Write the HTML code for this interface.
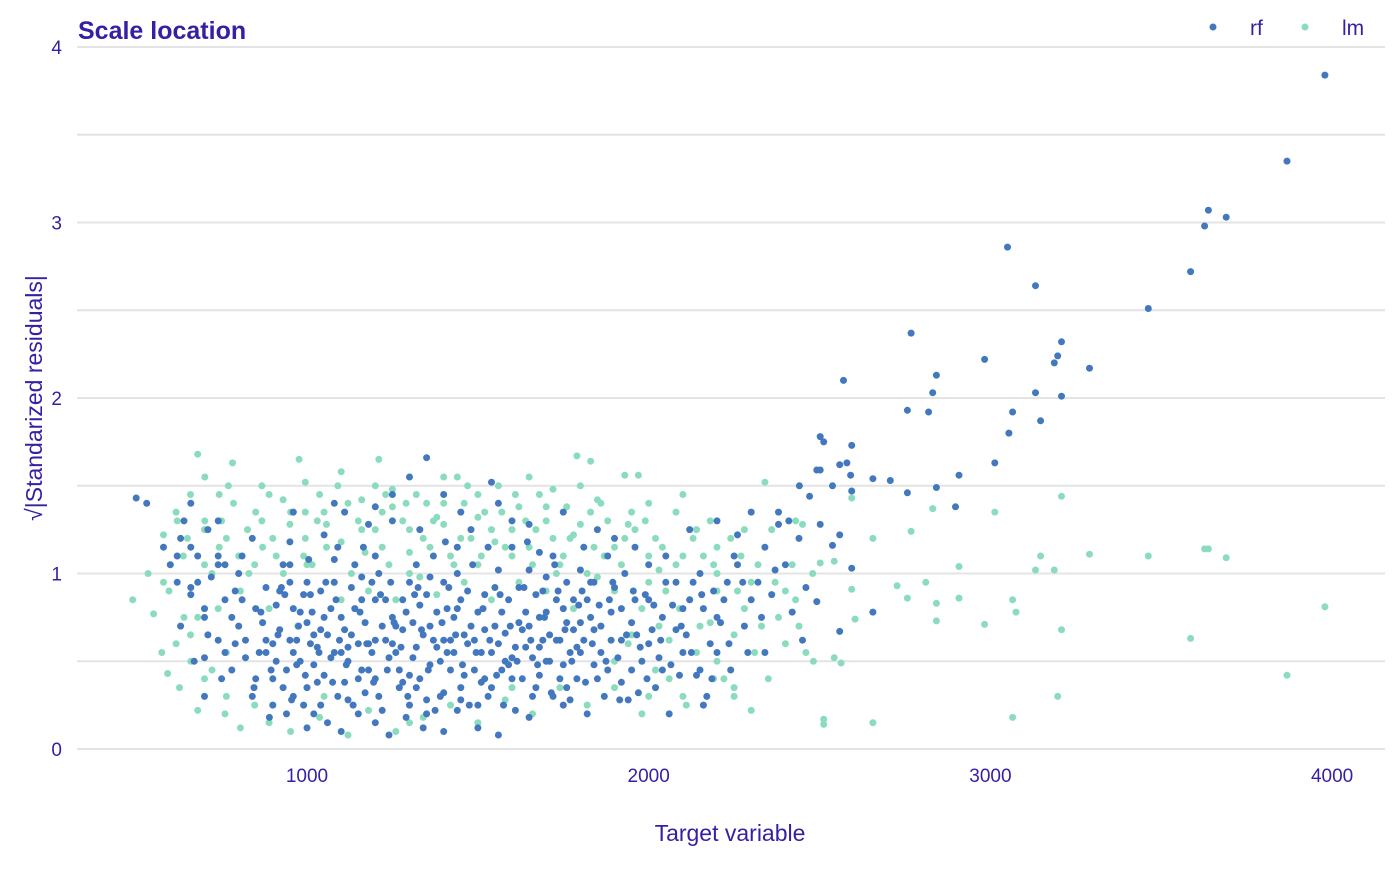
<!DOCTYPE html>
<html><head><meta charset="utf-8"><style>
body{margin:0;background:#fff;font-family:"Liberation Sans",sans-serif}
svg text{font-family:"Liberation Sans",sans-serif;fill:#371ea3}
</style></head><body>
<svg id="chart" width="1400" height="865" xmlns="http://www.w3.org/2000/svg">
<g id="grid"></g>
<g id="lm"></g>
<g id="rf"></g>
<g id="axes"></g>
<text x="78" y="39" font-size="25" font-weight="bold">Scale location</text>
<circle cx="1213" cy="27" r="3.5" fill="#4378bf"/>
<text x="1250" y="35" font-size="21">rf</text>
<circle cx="1305" cy="27" r="3.5" fill="#8bdcbe"/>
<text x="1342" y="35" font-size="21">lm</text>
<text x="730" y="841" font-size="23" text-anchor="middle">Target variable</text>
<text transform="translate(42,398) rotate(-90)" font-size="23" text-anchor="middle">√|Standarized residuals|</text>
</svg>
<script>
const xTicks=[1000,2000,3000,4000];
const yTicks=[0,1,2,3,4];
const yMinor=[0.5,1.5,2.5,3.5];
const rfX=[3979,3868,3638,3690,3627,3586,3050,3132,3462,2768,3208,3197,2983,3187,3290,2570,2842,3132,2831,3208,2757,2819,3065,3147,3054,2502,2512,2594,3013,2580,2559,2908,2591,2707,2656,2441,2492,2502,2757,2842,2594,2471,2898,2538,2559,2594,2656,2559,2492,2502,2538,500,531,
580,600,620,640,660,680,700,720,740,760,780,800,840,860,880,900,920,940,960,980,1000,1020,1040,1060,1080,1100,1120,1140,1160,1180,1200,1220,1240,1260,1280,1300,1320,1340,1360,1380,1400,1420,1440,1460,1480,1500,1520,1540,1560,1580,1600,1620,1640,1660,1680,1700,1720,1740,1760,1780,1800,1820,1840,1860,1880,1900,1920,1940,1960,1980,2000,2020,2040,2060,2080,2100,2120,2140,2160,2180,2200,2220,2240,2260,2280,2300,2320,2340,2360,2380,2400,2420,2440,2460,
630,670,710,750,800,850,890,930,970,1010,1050,1090,1130,1170,1210,1250,1290,1330,1370,1410,1450,1490,1530,1570,1610,1650,1690,1730,1770,1810,1850,1890,1930,1970,2010,2050,2090,2130,2170,2210,2250,2290,2330,2370,2410,2450,
660,700,740,790,840,880,920,960,1000,1040,1080,1120,1160,1200,1240,1280,1320,1360,1400,1440,1480,1520,1560,1600,1640,1680,1720,1760,1800,1840,1880,1920,1960,2000,2040,2080,2120,2160,2200,
870,910,950,990,1030,1070,1110,1150,1190,1230,1270,1310,1350,1390,1430,1470,1510,1550,1590,1630,1670,1710,1750,1790,1830,1870,1910,1950,1990,2030,2070,2110,2150,2190,
900,940,980,1020,1060,1100,1140,1180,1220,1260,1300,1340,1380,1420,1460,1500,1540,1580,1620,1660,1700,1740,1780,1820,1020,1100,1200,1300,1400,1500,1250,1330,1180,1050,950,810,740,1450,1560,1650,1750,1850,1300,1250,1350,1540,1110,
880,910,930,950,970,990,1010,1030,1050,1070,1090,1110,1130,1150,1170,1190,1210,1230,1250,1270,1290,1310,1330,1350,1370,1390,1410,1430,1450,1470,1490,1510,1530,1550,1570,1590,1610,1630,1650,1670,1690,1710,1730,1750,1770,1790,1810,1830,1860,1890,1920,1950,680,710,760,810,850,700,660,620,780,820,950,1080,1200,1320,1440,1560,1680,1800,1000,1160,1400,1700,1900,2000,2050,2100,2150,2230,2300,900,1000,1150,1350,1450,1650,1750,960,1080,1400,1200,1600,2380,2260,2340,2200,
820,845,865,895,915,935,955,975,995,1015,1035,1055,1075,1095,1115,1135,1155,1175,1195,1215,1235,1255,1275,1295,1315,1335,1355,1375,1395,1415,1435,1455,1475,1495,1515,1535,1555,1575,1595,1615,1635,1655,1675,1695,1715,1735,1755,1775,1795,1815,1835,1855,1875,1895,1915,1935,1955,1975,1995,2015,2035,2065,2095,2125,2155,2185,2235,2275,
960,1040,1120,1200,1280,1360,1440,1520,1600,1680,1760,1840,925,1005,1085,1165,1245,1325,1405,1485,1565,1645,1725,1805,1885,1965,760,790,740,700,660,630];
const rfY=[3.84,3.35,3.07,3.03,2.98,2.72,2.86,2.64,2.51,2.37,2.32,2.24,2.22,2.20,2.17,2.10,2.13,2.03,2.03,2.01,1.93,1.92,1.92,1.87,1.80,1.78,1.75,1.73,1.63,1.63,1.62,1.56,1.56,1.53,1.54,1.50,1.59,1.59,1.46,1.49,1.47,1.44,1.38,1.50,1.22,1.03,0.78,0.67,0.84,1.28,1.16,1.43,1.40,
1.15,1.05,0.95,1.30,0.88,1.10,0.75,0.98,0.62,0.85,0.45,0.70,0.30,0.55,0.92,0.40,0.68,0.20,0.80,0.50,0.35,0.65,0.90,0.15,0.55,0.75,0.28,1.05,0.45,0.60,0.85,0.22,0.52,0.70,0.38,0.95,0.58,0.12,0.48,0.78,0.32,0.62,1.00,0.42,0.70,0.25,0.88,0.55,0.08,0.66,0.40,0.92,0.58,0.30,0.75,0.50,1.10,0.62,0.35,0.85,0.55,0.20,0.95,0.70,0.45,1.20,0.62,0.28,0.85,0.50,1.05,0.35,0.75,0.20,0.95,0.55,1.25,0.42,0.80,0.60,1.30,0.85,0.45,1.05,0.70,1.35,0.95,1.15,0.88,1.28,1.05,0.78,1.20,0.92,
0.70,0.50,1.25,0.40,1.00,0.80,0.18,1.05,0.62,0.88,0.42,1.15,0.65,0.32,1.00,0.75,0.18,0.82,1.10,0.55,0.85,0.45,1.15,0.78,0.22,1.02,0.62,0.85,0.28,1.15,0.40,0.78,1.00,0.32,0.68,1.10,0.42,0.95,0.30,0.72,1.10,0.55,0.75,1.02,1.30,0.62,
1.40,0.30,1.05,0.60,1.20,0.62,0.90,0.30,0.72,0.25,0.95,0.50,0.85,0.40,0.08,0.68,0.35,0.98,0.62,0.22,1.25,0.40,0.60,1.15,0.78,0.42,0.30,0.95,0.72,0.48,1.10,0.38,1.15,0.60,0.45,0.68,0.85,0.25,0.55,
0.72,0.50,0.95,0.25,0.58,0.80,0.38,0.60,0.95,0.62,0.45,0.72,0.28,0.50,0.75,0.60,0.38,0.92,0.48,0.68,0.88,0.65,0.48,0.58,0.75,0.30,0.52,0.72,0.88,0.52,0.82,0.65,0.45,0.90,
0.60,0.45,0.78,0.48,0.65,0.55,0.80,0.45,0.70,0.55,0.42,0.65,0.58,0.45,0.65,0.78,0.35,0.50,0.72,0.52,0.78,0.40,0.68,0.85,0.20,0.10,0.15,0.25,0.10,0.12,1.30,1.25,1.28,1.22,1.18,1.10,1.30,1.35,1.40,1.28,1.35,1.25,1.55,1.45,1.66,1.52,1.35,
0.55,0.82,0.35,0.62,0.48,0.88,0.60,0.38,0.75,0.52,0.30,0.68,0.92,0.40,0.72,0.55,0.30,0.85,0.60,0.35,0.78,0.52,0.40,0.88,0.62,0.30,0.80,0.55,0.35,0.90,0.62,0.55,0.30,0.70,0.45,0.85,0.58,0.40,0.70,0.35,0.90,0.50,0.62,0.80,0.55,0.40,0.62,0.95,0.55,0.62,0.80,0.45,0.95,0.65,1.05,0.85,0.40,0.52,1.15,1.10,0.75,0.52,1.05,1.08,1.10,1.05,1.15,1.02,1.12,1.02,0.95,0.98,0.95,0.98,0.92,0.85,0.95,0.80,1.00,0.95,0.85,0.25,0.12,0.20,0.20,0.28,0.18,0.25,1.35,1.40,1.45,1.38,1.30,1.35,1.22,0.55,0.75,
0.62,0.35,0.78,0.45,0.65,0.88,0.28,0.70,0.42,0.78,0.55,0.95,0.38,0.62,0.48,0.25,0.78,0.60,0.38,0.88,0.45,0.72,0.58,0.30,0.88,0.68,0.45,0.22,0.72,0.92,0.65,0.48,0.25,0.55,0.80,0.62,0.42,0.25,0.70,0.50,0.92,0.62,0.48,0.75,0.32,0.90,0.68,0.50,0.82,0.38,0.60,0.82,0.50,0.95,0.28,0.65,0.90,0.58,0.40,0.82,0.62,0.48,0.70,0.55,0.88,0.40,0.60,0.95,
0.55,0.68,0.58,0.62,0.85,0.70,0.80,0.68,0.52,0.58,0.72,0.68,0.92,1.08,0.85,1.15,0.95,0.92,1.18,1.05,0.88,1.18,1.05,0.90,0.85,0.65,0.55,0.90,1.10,0.80,0.92,1.20];
const lmX=[3979,3868,3690,3638,3627,3586,3462,3290,3208,3208,3197,3187,3147,3132,3075,3065,3065,3013,2983,2908,2908,2842,2842,2831,2811,2768,2757,2727,2656,2656,2604,2594,2594,2563,2543,2512,2512,2482,2502,2543,490,551,592,680,782,977,1210,1790,1830,1930,1970,
535,580,617,659,701,743,785,826,868,910,952,995,1037,1079,1120,1160,1200,1240,1280,1320,1360,1400,1440,1480,1520,1560,1600,1640,1680,1720,1760,1800,1840,1880,1920,1960,2000,2040,2080,2120,2160,2200,2240,2280,2320,2360,2400,2440,2480,2400,2350,2300,2250,2200,
596,638,680,722,764,805,847,889,931,973,1015,1057,1100,1140,1180,1220,1260,1300,1340,1380,1420,1460,1500,1540,1580,1620,1660,1700,1740,1780,1820,1860,1900,1940,1980,2020,2060,2100,2140,2180,2220,2260,
680,722,764,805,847,889,952,1037,1120,1180,1260,1340,1420,1500,1580,1660,1740,1820,1900,1980,2060,627,575,659,701,743,889,995,1100,1250,1400,1500,1650,1720,1850,2000,2100,2180,2280,2340,2430,
617,764,868,995,1057,1160,1220,1300,1380,1460,1540,1620,1700,1780,1860,1940,2020,2080,2140,2200,2300,2380,2460,1050,1300,1600,1900,
600,650,700,750,800,850,900,950,1000,1050,1100,1150,1200,1250,1300,1350,1400,1450,1500,1550,1600,1650,1700,1750,1800,1850,1900,1950,2000,2050,2100,2150,2200,2250,2330,2420,2450,660,740,700,760,640,620,
580,700,770,830,870,930,990,1030,1090,1130,1170,1230,1290,1330,1370,1430,1470,1510,1570,1610,1670,1730,1770,1830,1870,1930,1990,2030,2090,2130,2190,2270,2310,2370,2430,2190,2110,2000,1950,2030,2250];
const lmY=[0.81,0.42,1.09,1.14,1.14,0.63,1.10,1.11,1.44,0.68,0.30,1.02,1.10,1.02,0.78,0.85,0.18,1.35,0.71,0.86,1.04,0.73,0.83,1.37,0.95,1.24,0.86,0.93,1.20,0.15,0.74,1.43,0.91,0.49,0.52,0.17,0.14,0.50,1.06,1.07,0.85,0.77,0.43,1.68,1.63,1.65,1.65,1.67,1.64,1.56,1.56,
1.00,1.22,0.60,1.45,1.30,1.15,1.40,1.25,1.50,1.10,1.35,1.20,1.45,0.95,1.40,1.25,1.50,1.05,1.30,1.45,1.15,1.40,1.55,1.20,1.35,1.50,1.10,1.30,1.45,1.20,1.38,1.50,1.15,1.30,1.05,1.25,0.95,1.15,1.35,0.85,1.10,1.00,1.20,0.80,1.05,1.25,0.90,0.70,1.00,0.60,0.40,0.22,0.35,0.50,
0.90,1.10,0.75,1.00,0.55,0.90,1.05,0.80,1.00,0.70,1.05,1.15,0.85,1.05,0.90,1.15,0.85,1.00,1.20,0.88,1.10,0.95,1.05,0.85,1.15,0.95,1.05,0.90,1.05,0.80,1.00,0.70,0.90,0.60,0.80,0.45,0.62,0.30,0.55,0.72,0.40,0.90,
0.22,0.45,0.30,0.12,0.25,0.15,0.10,0.18,0.08,0.22,0.10,0.18,0.25,0.15,0.28,0.20,0.35,0.25,0.35,0.20,0.40,0.35,0.55,0.65,1.55,1.45,1.45,1.52,1.58,1.48,1.55,1.45,1.55,1.48,1.42,1.40,1.45,1.30,1.25,1.52,1.30,
1.35,1.20,1.30,1.35,1.28,1.42,1.35,1.25,1.32,1.40,1.25,1.38,1.30,1.22,1.40,1.28,1.20,1.05,1.25,1.15,0.95,0.75,0.55,0.30,0.15,0.35,0.50,
1.05,1.20,1.05,1.30,1.10,1.35,1.20,1.28,1.05,1.35,1.18,1.30,1.25,1.38,1.12,1.40,1.28,1.20,1.32,1.18,1.25,1.15,1.38,1.10,1.28,0.98,1.15,1.35,1.10,0.90,1.10,0.70,0.90,0.65,0.70,1.05,1.28,0.50,0.80,0.40,0.20,0.75,1.30,
0.95,1.25,1.50,1.00,1.15,1.42,1.10,1.30,1.50,1.00,1.12,1.45,1.40,0.98,1.30,1.05,1.50,1.10,1.35,1.45,1.25,1.00,1.20,1.35,1.10,1.20,1.30,1.02,0.80,1.20,1.05,1.10,0.55,0.95,0.85,0.40,0.25,0.30,0.65,0.70,0.30];

const NS='http://www.w3.org/2000/svg';
const xScale=v=>307+(v-1000)*0.3417;
const yScale=v=>749-v*175.5;
const grid=document.getElementById('grid'),axes=document.getElementById('axes');
function mk(tag,attrs,parent){const e=document.createElementNS(NS,tag);for(const k in attrs)e.setAttribute(k,attrs[k]);parent.appendChild(e);return e;}
yTicks.concat(yMinor).forEach(t=>{
  const l=mk('line',{x1:77,x2:1385,y1:yScale(t),y2:yScale(t),stroke:'#e4e4e4','stroke-width':2},grid);
  
  
});
yTicks.forEach(t=>{
  const tx=mk('text',{x:62,y:yScale(t)+7,'font-size':19,'text-anchor':'end'},axes);
  tx.textContent=t;
  
  
});
xTicks.forEach(t=>{
  const tx=mk('text',{x:xScale(t),y:782,'font-size':19,'text-anchor':'middle'},axes);
  tx.textContent=t;
  
  
});
function draw(xs,ys,g,color,name){
  for(let i=0;i<xs.length;i++){
    const c=mk('circle',{cx:xScale(xs[i]).toFixed(1),cy:yScale(ys[i]).toFixed(1),r:3.5,fill:color},g);
    
    
  }
}
draw(lmX,lmY,document.getElementById('lm'),'#8bdcbe','lm-point');
draw(rfX,rfY,document.getElementById('rf'),'#4378bf','rf-point');
</script>
</body></html>
